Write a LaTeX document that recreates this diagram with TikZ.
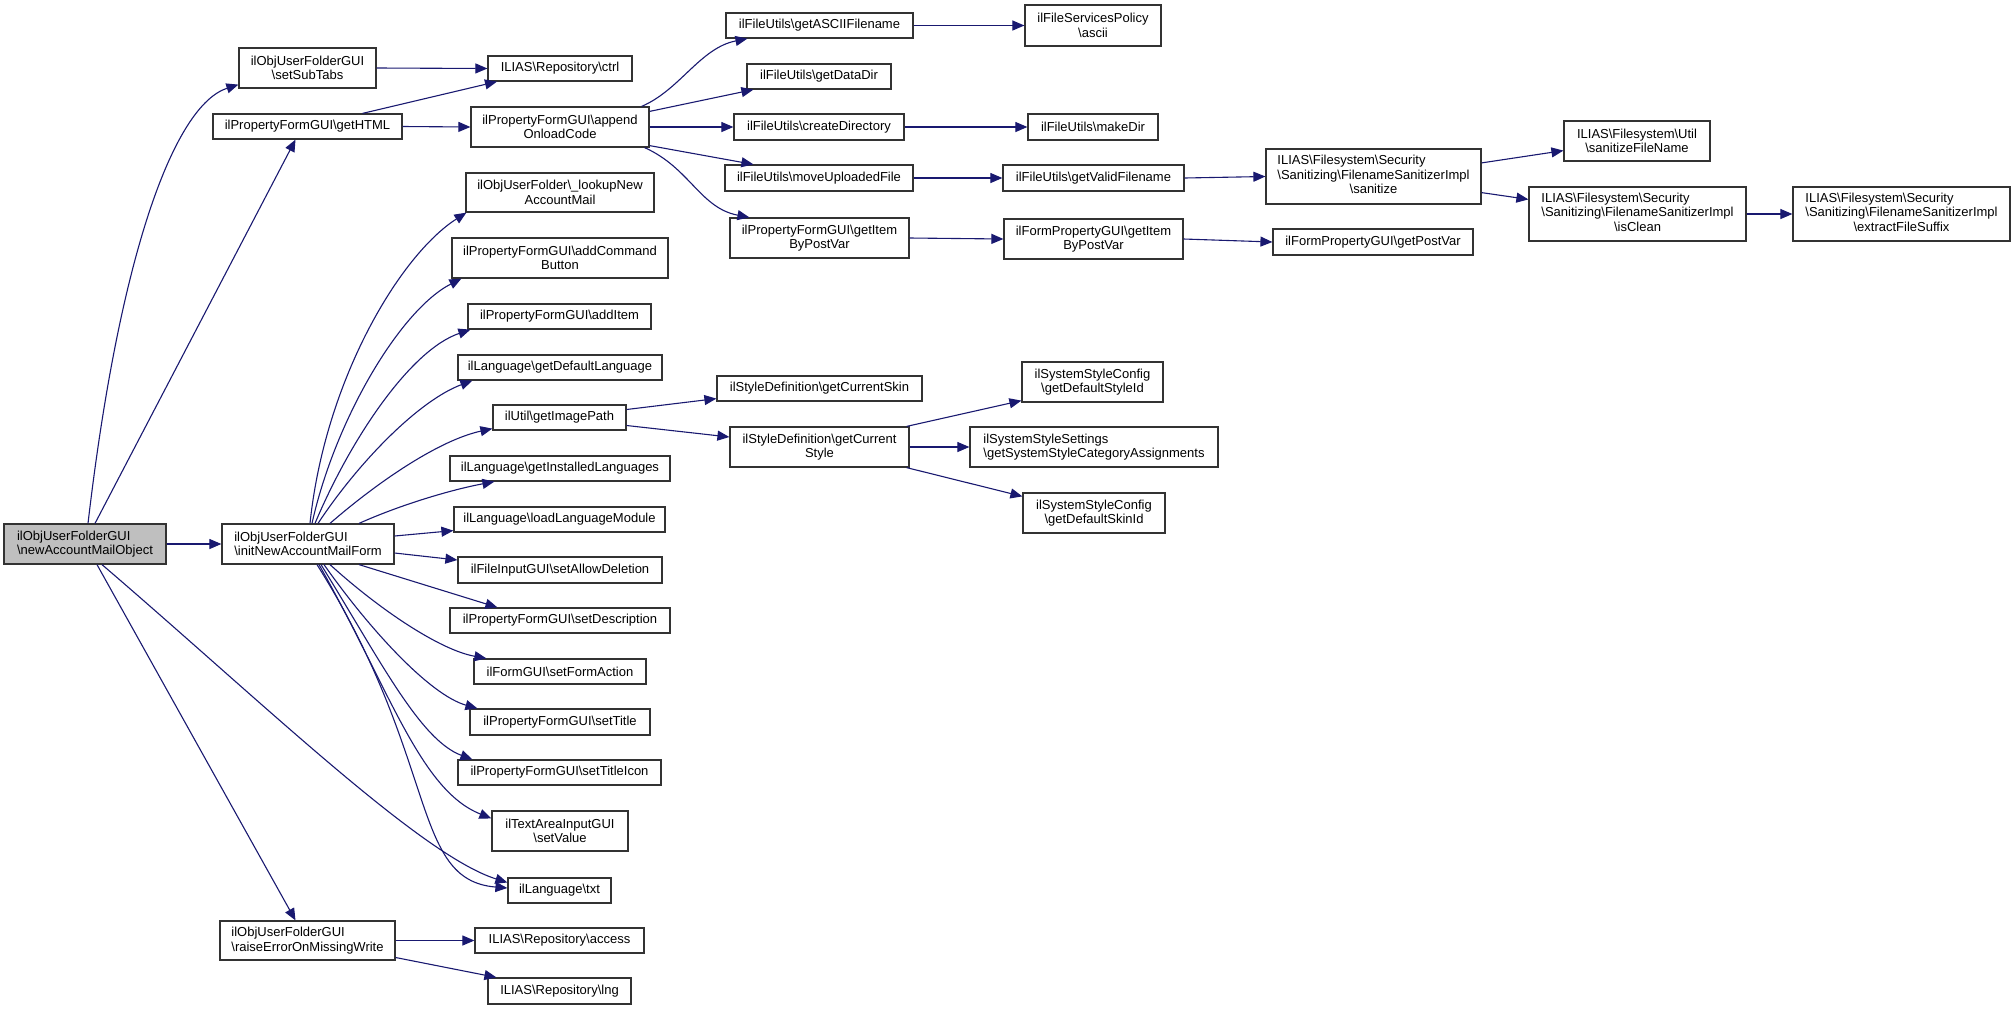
\documentclass[tikz,border=0pt]{standalone}
\usepackage{fontspec}
\setmainfont{Liberation Sans}
\usetikzlibrary{arrows.meta}
\definecolor{edgecol}{HTML}{191970}
\definecolor{boxcol}{HTML}{333333}
\definecolor{rootfill}{HTML}{BFBFBF}
\newcommand{\bsl}{\textbackslash}
\newcommand{\secnode}[1]{\begin{tabular}{@{}l@{}}ILIAS\bsl Filesystem\bsl Security\\\bsl Sanitizing\bsl FilenameSanitizerImpl\\\multicolumn{1}{@{}c@{}}{\bsl #1}\end{tabular}}
\begin{document}
\begin{tikzpicture}[x=1pt,y=-1pt,
 box/.style={draw=boxcol, line width=1.2pt, fill=white, inner sep=0pt, align=center, font=\fontsize{13}{14.5}\selectfont},
 lbox/.style={box, align=left},
 edge/.style={draw=edgecol, line width=1.1pt, -{Triangle[length=12pt,width=10pt]}}]
\useasboundingbox (0,0) rectangle (2015,1010);
% column 1
\node[lbox, fill=rootfill, minimum width=162pt, minimum height=40pt] (root) at (85,544) {ilObjUserFolderGUI\\\bsl newAccountMailObject};
% column 2
\node[box, minimum width=137pt, minimum height=40pt] (subtabs) at (307.5,68) {ilObjUserFolderGUI\\\bsl setSubTabs};
\node[box, minimum width=189pt, minimum height=25pt] (gethtml) at (307.5,126.5) {ilPropertyFormGUI\bsl getHTML};
\node[lbox, minimum width=172pt, minimum height=40pt] (init) at (308,544) {ilObjUserFolderGUI\\\bsl initNewAccountMailForm};
\node[lbox, minimum width=175pt, minimum height=39pt] (raise) at (307.5,940.5) {ilObjUserFolderGUI\\\bsl raiseErrorOnMissingWrite};
% column 3
\node[box, minimum width=144pt, minimum height=25pt] (ctrl) at (560,68.5) {ILIAS\bsl Repository\bsl ctrl};
\node[box, minimum width=178pt, minimum height=40pt] (append) at (560,127) {ilPropertyFormGUI\bsl append\\OnloadCode};
\node[box, minimum width=188pt, minimum height=39pt] (lookup) at (560,192.5) {ilObjUserFolder\bsl\_lookupNew\\AccountMail};
\node[box, minimum width=216pt, minimum height=40pt] (addcmd) at (560,258) {ilPropertyFormGUI\bsl addCommand\\Button};
\node[box, minimum width=183pt, minimum height=25pt] (additem) at (559.5,316.5) {ilPropertyFormGUI\bsl addItem};
\node[box, minimum width=204pt, minimum height=25pt] (deflang) at (560,367.5) {ilLanguage\bsl getDefaultLanguage};
\node[box, minimum width=133pt, minimum height=25pt] (imgpath) at (559.5,417.5) {ilUtil\bsl getImagePath};
\node[box, minimum width=220pt, minimum height=25pt] (instlang) at (560,468.5) {ilLanguage\bsl getInstalledLanguages};
\node[box, minimum width=211pt, minimum height=25pt] (loadlang) at (559.5,519.5) {ilLanguage\bsl loadLanguageModule};
\node[box, minimum width=204pt, minimum height=26pt] (allowdel) at (560,570) {ilFileInputGUI\bsl setAllowDeletion};
\node[box, minimum width=220pt, minimum height=25pt] (setdesc) at (560,620.5) {ilPropertyFormGUI\bsl setDescription};
\node[box, minimum width=172pt, minimum height=25pt] (formact) at (560,671.5) {ilFormGUI\bsl setFormAction};
\node[box, minimum width=180pt, minimum height=26pt] (settitle) at (560,722) {ilPropertyFormGUI\bsl setTitle};
\node[box, minimum width=203pt, minimum height=25pt] (titleicon) at (559.5,772.5) {ilPropertyFormGUI\bsl setTitleIcon};
\node[box, minimum width=136pt, minimum height=40pt] (setvalue) at (560,831) {ilTextAreaInputGUI\\\bsl setValue};
\node[box, minimum width=103pt, minimum height=25pt] (txt) at (559.5,890.5) {ilLanguage\bsl txt};
\node[box, minimum width=169pt, minimum height=25pt] (access) at (559.5,940.5) {ILIAS\bsl Repository\bsl access};
\node[box, minimum width=143pt, minimum height=26pt] (lng) at (559.5,991) {ILIAS\bsl Repository\bsl lng};
% column 4
\node[box, minimum width=187pt, minimum height=25pt] (ascfile) at (819.5,25.5) {ilFileUtils\bsl getASCIIFilename};
\node[box, minimum width=144pt, minimum height=25pt] (datadir) at (819,76.5) {ilFileUtils\bsl getDataDir};
\node[box, minimum width=170pt, minimum height=26pt] (createdir) at (819,127) {ilFileUtils\bsl createDirectory};
\node[box, minimum width=188pt, minimum height=26pt] (moveup) at (819,178) {ilFileUtils\bsl moveUploadedFile};
\node[box, minimum width=179pt, minimum height=40pt] (pfitem) at (819.5,238) {ilPropertyFormGUI\bsl getItem\\ByPostVar};
\node[box, minimum width=205pt, minimum height=25pt] (curskin) at (819.5,388.5) {ilStyleDefinition\bsl getCurrentSkin};
\node[box, minimum width=179pt, minimum height=40pt] (curstyle) at (819.5,447) {ilStyleDefinition\bsl getCurrent\\Style};
% column 5
\node[box, minimum width=136pt, minimum height=41pt] (ascii) at (1093,25.5) {ilFileServicesPolicy\\\bsl ascii};
\node[box, minimum width=130pt, minimum height=26pt] (makedir) at (1093,127) {ilFileUtils\bsl makeDir};
\node[box, minimum width=181pt, minimum height=26pt] (validfn) at (1093.5,178) {ilFileUtils\bsl getValidFilename};
\node[box, minimum width=179pt, minimum height=40pt] (fpitem) at (1093.5,239) {ilFormPropertyGUI\bsl getItem\\ByPostVar};
\node[box, minimum width=141pt, minimum height=40pt] (defstyle) at (1092.5,382) {ilSystemStyleConfig\\\bsl getDefaultStyleId};
\node[lbox, minimum width=248pt, minimum height=40pt] (stylecat) at (1094,447) {ilSystemStyleSettings\\\bsl getSystemStyleCategoryAssignments};
\node[box, minimum width=142pt, minimum height=40pt] (defskin) at (1094,513) {ilSystemStyleConfig\\\bsl getDefaultSkinId};
% column 6
\node[box, minimum width=215pt, minimum height=55pt] (sanitize) at (1373.5,176.5) {\secnode{sanitize}};
\node[box, minimum width=200pt, minimum height=26pt] (postvar) at (1373,242) {ilFormPropertyGUI\bsl getPostVar};
% column 7
\node[box, minimum width=146pt, minimum height=40pt] (sanfn) at (1637,141) {ILIAS\bsl Filesystem\bsl Util\\\bsl sanitizeFileName};
\node[box, minimum width=217pt, minimum height=54pt] (isclean) at (1637.5,214) {\secnode{isClean}};
% column 8
\node[box, minimum width=217pt, minimum height=54pt] (suffix) at (1901.5,214) {\secnode{extractFileSuffix}};

% edges from root
\draw[edge] ([xshift=3pt]root.north) .. controls (120,250) and (175,105) .. ([yshift=4pt]subtabs.south west);
\draw[edge] ([xshift=10pt]root.north) -- ([xshift=-12pt]gethtml.south);
\draw[edge] (root.east) -- (init.west);
\draw[edge] ([xshift=17pt]root.south) .. controls (260,700) and (420,855) .. ([yshift=8pt]txt.west);
\draw[edge] ([xshift=12pt]root.south) -- ([xshift=-12pt]raise.north);
% getHTML / setSubTabs
\draw[edge] ([xshift=55pt]gethtml.north) -- ([xshift=-63pt]ctrl.south);
\draw[edge] (gethtml.east) -- (append.west);
\draw[edge] (subtabs.east) -- (ctrl.west);
% appendOnloadCode
\draw[edge] ([xshift=-8pt]append.north east) .. controls (680,90) and (700,48) .. ([xshift=22pt]ascfile.south west);
\draw[edge] ([yshift=-5pt]append.north east) -- ([xshift=7pt]datadir.south west);
\draw[edge] (append.east) -- (createdir.west);
\draw[edge] ([yshift=2pt]append.south east) -- ([xshift=29pt]moveup.north west);
\draw[edge] ([xshift=-5pt]append.south east) .. controls (690,168) and (700,208) .. ([xshift=20pt]pfitem.north west);
\draw[edge] (ascfile.east) -- (ascii.west);
\draw[edge] (createdir.east) -- (makedir.west);
\draw[edge] (moveup.east) -- (validfn.west);
\draw[edge] (validfn.east) -- (sanitize.west);
\draw[edge] (pfitem.east) -- (fpitem.west);
\draw[edge] (fpitem.east) -- (postvar.west);
\draw[edge] ([yshift=-14.5pt]sanitize.north east) -- ([yshift=11pt]sanfn.south west);
\draw[edge] ([yshift=12pt]sanitize.south east) -- ([yshift=-13pt]isclean.north west);
\draw[edge] (isclean.east) -- (suffix.west);
% getImagePath / getCurrentStyle
\draw[edge] ([yshift=8pt]imgpath.east) -- ([yshift=3pt]curskin.south west);
\draw[edge] ([yshift=-8pt]imgpath.east) -- ([yshift=10pt]curstyle.west);
\draw[edge] ([xshift=-3pt]curstyle.north east) -- ([yshift=2pt]defstyle.south west);
\draw[edge] (curstyle.east) -- (stylecat.west);
\draw[edge] ([xshift=-3pt]curstyle.south east) -- ([yshift=-4pt]defskin.north west);
% raiseErrorOnMissingWrite
\draw[edge] (raise.east) -- (access.west);
\draw[edge] ([yshift=-17pt]raise.east) -- ([xshift=9pt]lng.north west);
% initNewAccountMailForm
\draw[edge] ([xshift=2pt]init.north) .. controls (325,380) and (400,255) .. ([xshift=1pt]lookup.south west);
\draw[edge] ([xshift=4pt]init.north) .. controls (335,420) and (400,310) .. ([xshift=10pt]addcmd.south west);
\draw[edge] ([xshift=7pt]init.north) .. controls (350,440) and (410,350) .. ([xshift=3pt]additem.south west);
\draw[edge] ([xshift=10pt]init.north) .. controls (360,460) and (420,400) .. ([xshift=15pt]deflang.south west);
\draw[edge] ([xshift=22pt]init.north) .. controls (380,480) and (440,440) .. ([yshift=2pt]imgpath.south west);
\draw[edge] ([xshift=51pt]init.north) .. controls (400,505) and (450,490) .. ([xshift=45pt]instlang.south west);
\draw[edge] ([yshift=8pt]init.east) -- ([yshift=2pt]loadlang.south west);
\draw[edge] ([yshift=-9pt]init.east) -- ([yshift=10pt]allowdel.west);
\draw[edge] ([xshift=51pt]init.south) -- ([xshift=48pt]setdesc.north west);
\draw[edge] ([xshift=22pt]init.south) .. controls (380,610) and (440,650) .. ([xshift=13pt]formact.north west);
\draw[edge] ([xshift=16pt]init.south) .. controls (370,630) and (430,695) .. ([xshift=8pt]settitle.north west);
\draw[edge] ([xshift=13pt]init.south) .. controls (380,660) and (420,740) .. ([xshift=15pt]titleicon.north west);
\draw[edge] ([xshift=11pt]init.south) .. controls (390,690) and (420,790) .. ([yshift=-8pt]setvalue.north west);
\draw[edge] ([xshift=9pt]init.south) .. controls (440,760) and (410,880) .. ([yshift=2.5pt]txt.west);
\end{tikzpicture}
\end{document}
